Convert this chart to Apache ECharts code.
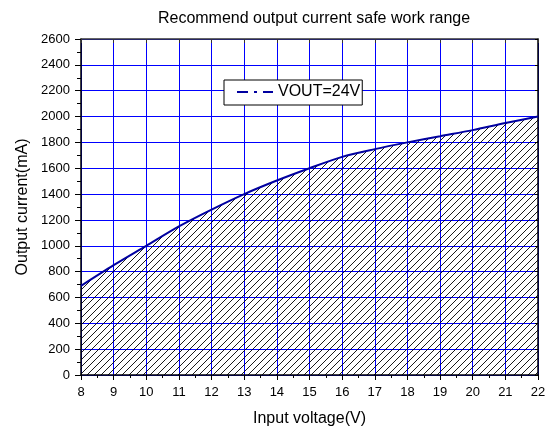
<!DOCTYPE html>
<html>
<head>
<meta charset="utf-8">
<script src="https://cdn.jsdelivr.net/npm/echarts@6/dist/echarts.min.js"></script>
<style>html,body{margin:0;padding:0;background:#fff;}#c{width:553px;height:432px;}</style>
</head>
<body>
<div id="c"></div>
<script>
var voltages = [8, 9, 10, 11, 12, 13, 14, 15, 16, 17, 18, 19, 20, 21, 22];
var currents = [690, 850, 1000, 1150, 1280, 1400, 1505, 1600, 1688, 1748, 1800, 1848, 1895, 1950, 2000];
var seriesName = 'VOUT=24V';

var hatch = document.createElement('canvas');
hatch.width = 7; hatch.height = 7;
var g = hatch.getContext('2d');
g.strokeStyle = '#000';
g.lineWidth = 0.9;
g.beginPath();
g.moveTo(-1, 8); g.lineTo(8, -1);
g.moveTo(-1, 1); g.lineTo(1, -1);
g.moveTo(6, 8); g.lineTo(8, 6);
g.stroke();

var chart = echarts.init(document.getElementById('c'));
var font = 'Liberation Sans, Arial, sans-serif';
chart.setOption({
  animation: false,
  title: {
    text: 'Recommend output current safe work range',
    left: 309, top: 6, textAlign: 'center',
    textStyle: {fontFamily: font, fontSize: 16, fontWeight: 'normal', color: '#000'}
  },
  legend: {
    left: 224, top: 80,
    orient: 'horizontal',
    backgroundColor: '#fff',
    borderColor: '#000', borderWidth: 1, borderRadius: 0,
    padding: [4, 2, 5, 13],
    itemWidth: 36, itemHeight: 2, itemGap: 4,
    icon: 'path://M0,0h11v2h-11z M17,0h3v2h-3z M26,0h10v2h-10z',
    textStyle: {fontFamily: font, fontSize: 16, color: '#000', padding: [0, 0, 0, 0]},
    data: [{name: seriesName, itemStyle: {color: '#0000a0'}}]
  },
  grid: {left: 81, right: 15, top: 39, bottom: 57, containLabel: false},
  xAxis: [{
    type: 'value', min: 8, max: 22, interval: 1,
    name: 'Input voltage(V)', nameLocation: 'middle', nameGap: 36,
    nameTextStyle: {fontFamily: font, fontSize: 16, color: '#000'},
    axisLine: {show: true, onZero: false, lineStyle: {color: '#000', width: 1.5}},
    axisTick: {show: true, inside: false, length: 5, lineStyle: {color: '#000'}},
    minorTick: {show: true, splitNumber: 2, length: 3, lineStyle: {color: '#000'}},
    axisLabel: {fontFamily: font, fontSize: 13, color: '#000', margin: 11},
    splitLine: {show: true, lineStyle: {color: '#0000ff', width: 1}}
  }, {
    type: 'value', min: 8, max: 22, interval: 1, position: 'top',
    axisLine: {show: true, onZero: false, lineStyle: {color: '#333', width: 1.5}},
    axisTick: {show: true, inside: true, length: 4, lineStyle: {color: '#333'}},
    minorTick: {show: false},
    axisLabel: {show: false},
    splitLine: {show: false}
  }],
  yAxis: [{
    type: 'value', min: 0, max: 2600, interval: 200,
    name: 'Output current(mA)', nameLocation: 'middle', nameGap: 49, nameRotate: 90,
    nameTextStyle: {fontFamily: font, fontSize: 16, color: '#000'},
    axisLine: {show: true, onZero: false, lineStyle: {color: '#000', width: 1.5}},
    axisTick: {show: true, inside: false, length: 6, lineStyle: {color: '#000'}},
    minorTick: {show: true, splitNumber: 2, length: 4, lineStyle: {color: '#000'}},
    axisLabel: {fontFamily: font, fontSize: 13, color: '#000', margin: 11,
      formatter: function (v) { return String(v); }},
    splitLine: {show: true, lineStyle: {color: '#0000ff', width: 1}}
  }, {
    type: 'value', min: 0, max: 2600, interval: 200, position: 'right',
    axisLine: {show: true, onZero: false, lineStyle: {color: '#000', width: 1.5}},
    axisTick: {show: true, inside: true, length: 3, lineStyle: {color: '#000'}},
    axisLabel: {show: false},
    splitLine: {show: false}
  }],
  series: [{
    name: seriesName,
    type: 'line',
    smooth: 0.3,
    showSymbol: false,
    symbol: 'none',
    data: voltages.map(function (v, i) { return [v, currents[i]]; }),
    lineStyle: {color: '#0000a0', width: 2},
    itemStyle: {color: '#0000a0'},
    areaStyle: {color: {image: hatch, repeat: 'repeat'}, opacity: 1},
    z: 3
  }]
});
</script>
</body>
</html>
